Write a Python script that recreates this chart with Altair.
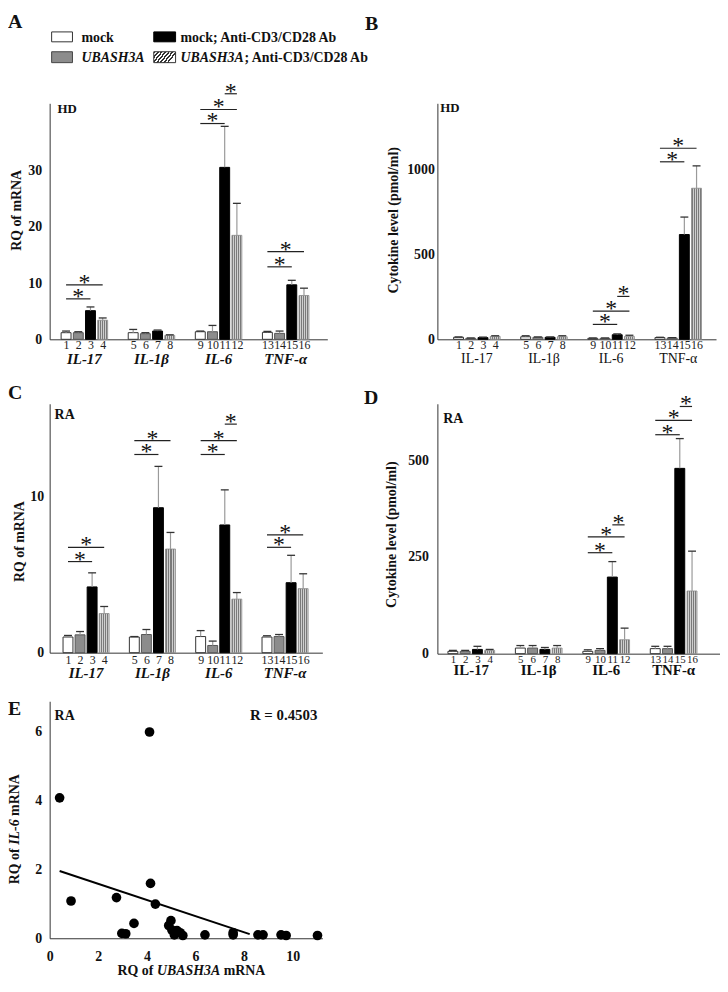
import altair as alt
import pandas as pd

FONT = "Liberation Serif"

# ---------------- data ----------------
genes = ["IL-17", "IL-1β", "IL-6", "TNF-α"]
conditions = ["mock", "UBASH3A", "mock; Anti-CD3/CD28 Ab", "UBASH3A; Anti-CD3/CD28 Ab"]
bar_numbers = list(range(1, 17))

# A: HD, RQ of mRNA
hd_mrna_mean = [1.18, 1.18, 5.1, 3.4, 1.18, 1.0, 1.47, 0.7, 1.35, 1.35, 30.6, 18.5, 1.24, 1.06, 9.7, 7.8]
hd_mrna_top = [1.47, 1.35, 5.76, 3.8, 1.76, 1.18, 1.65, 0.8, 1.47, 2.47, 37.9, 24.2, 1.41, 1.47, 10.5, 9.1]
hd_mrna_sig_from = [1, 1, 9, 9, 11, 13, 13]
hd_mrna_sig_to = [3, 4, 11, 12, 12, 15, 16]
hd_mrna_sig_y = [7.2, 9.7, 38.4, 40.9, 43.7, 12.9, 15.6]

# B: HD, cytokine level
hd_cyto_mean = [12, 6, 10, 17, 15, 12, 12, 15, 6, 6, 27, 17, 10, 8, 618, 891]
hd_cyto_top = [14, 8, 13, 21, 21, 14, 14, 21, 8, 8, 32, 24, 12, 10, 721, 1023]
hd_cyto_sig_from = [9, 9, 11, 13, 13]
hd_cyto_sig_to = [11, 12, 12, 15, 16]
hd_cyto_sig_y = [88, 166, 253, 1047, 1127]

# C: RA, RQ of mRNA
ra_mrna_mean = [1.0, 1.14, 4.2, 2.5, 1.0, 1.16, 9.26, 6.62, 1.03, 0.46, 8.16, 3.42, 1.0, 1.03, 4.47, 4.09]
ra_mrna_top = [1.1, 1.35, 5.1, 2.95, 1.03, 1.48, 11.9, 7.68, 1.41, 0.74, 10.4, 3.84, 1.08, 1.16, 6.22, 5.04]
ra_mrna_sig_from = [1, 1, 5, 5, 9, 9, 11, 13, 13]
ra_mrna_sig_to = [3, 4, 7, 8, 11, 12, 12, 15, 16]
ra_mrna_sig_y = [5.82, 6.73, 12.66, 13.54, 12.66, 13.54, 14.6, 6.73, 7.53]

# D: RA, cytokine level
ra_cyto_mean = [6, 6, 11, 8.5, 14.5, 14.5, 11, 14.5, 6, 8.5, 198, 36, 13, 13, 479, 162]
ra_cyto_top = [8.5, 8.5, 19, 11, 21, 21, 16, 21, 10, 13, 238, 66, 19, 19, 556, 265]
ra_cyto_sig_from = [9, 9, 11, 13, 13, 15]
ra_cyto_sig_to = [11, 12, 12, 15, 16, 16]
ra_cyto_sig_y = [261, 302, 333, 566, 603, 639]

# E: scatter
scatter_ubash3a = [0.41, 0.88, 2.75, 2.97, 3.13, 3.47, 4.11, 4.15, 4.35, 4.90, 4.99, 5.03,
                   5.13, 5.24, 5.37, 5.48, 6.39, 7.55, 7.55, 8.57, 8.78, 9.52, 9.73, 11.02]
scatter_il6 = [4.07, 1.08, 1.18, 0.14, 0.13, 0.43, 5.98, 1.59, 0.99, 0.37, 0.51, 0.24,
               0.10, 0.22, 0.16, 0.08, 0.10, 0.10, 0.16, 0.10, 0.10, 0.10, 0.08, 0.08]
trend_x = [0.41, 8.23]
trend_y = [1.95, 0.12]

# ---------------- layout helpers ----------------
POS = [(i // 4) * 11 + (i % 4) * 2 for i in range(16)]
LABEL_EXPR = "'' + (indexof([" + ",".join(str(p) for p in POS) + "], datum.value) + 1)"


def stripes(n, dark, light, x2=1, y2=0):
    stops = []
    for k in range(n):
        a, m, b = k / n, (k + 0.5) / n, (k + 1) / n
        stops += [{"offset": a, "color": dark}, {"offset": m, "color": dark},
                  {"offset": m, "color": light}, {"offset": b, "color": light}]
    return {"gradient": "linear", "x1": 0, "y1": 0, "x2": x2, "y2": y2, "stops": stops}


HATCH_BAR = stripes(5, "#7a7a7a", "#cfcfcf")
HATCH_LEG = stripes(7, "#333333", "#ffffff", 1, 0.4)

ONE = alt.Data(values=[{}])


def txt(text, x, y, size, weight="bold", style="normal", align="left", angle=0, baseline="alphabetic"):
    return alt.Chart(ONE).mark_text(
        text=text, font=FONT, fontSize=size, fontWeight=weight, fontStyle=style,
        align=align, baseline=baseline, angle=angle, color="#111"
    ).encode(x=alt.value(x), y=alt.value(y))


def frame(x1, x2, y1, y2):
    return alt.Chart(ONE).mark_rect(fill="white", opacity=0).encode(
        x=alt.value(x1), x2=alt.value(x2), y=alt.value(y1), y2=alt.value(y2))


def swatch(x1, x2, y1, y2, fill, stroke):
    return alt.Chart(ONE).mark_rect(fill=fill, stroke=stroke, strokeWidth=1).encode(
        x=alt.value(x1), x2=alt.value(x2), y=alt.value(y1), y2=alt.value(y2))


def bar_df(mean, top):
    rows = []
    for i, b in enumerate(bar_numbers):
        g, c = divmod(i, 4)
        rows.append(dict(bar=b, gene=genes[g], cond=conditions[c], ci=c,
                         pos=POS[i], value=mean[i], top=top[i]))
    return pd.DataFrame(rows)


def sig_df(f, t, y):
    rows = []
    for a, b, lv in zip(f, t, y):
        x1, x2 = POS[a - 1], POS[b - 1]
        rows.append(dict(x1=x1, x2=x2, xm=(x1 + x2) / 2, level=lv, star="*"))
    return pd.DataFrame(rows)


def bar_panel(mean, top, sf, st, sy, width, height, xdom, ydom, yticks,
              num_size, num_pad, ylab_pad, gene_font, gene_y,
              title, title_x, title_y, tag, tag_size, tag_x, tag_y, frm, extra):
    df = bar_df(mean, top)
    sg = sig_df(sf, st, sy)
    gdf = pd.DataFrame({"gene": genes, "center": [g * 11 + 3 for g in range(4)]})
    xs = alt.Scale(domain=xdom, nice=False, zero=False)
    ys = alt.Scale(domain=ydom, nice=False, zero=True)
    xax = alt.Axis(values=POS, labelExpr=LABEL_EXPR, title=None, grid=False, ticks=False,
                   labelFont=FONT, labelFontSize=num_size, labelFontWeight="normal",
                   labelPadding=num_pad, labelOverlap=False, labelFlush=False,
                   domainColor="#333", labelColor="#222")
    yax = alt.Axis(values=yticks, format="d", title=None, grid=False, ticks=False,
                   labelFont=FONT, labelFontSize=14, labelFontWeight="bold",
                   labelPadding=ylab_pad, labelFlush=False, domainColor="#333", labelColor="#111")

    def X(f):
        return alt.X(f, type="quantitative", scale=xs, axis=xax)

    def Y(f):
        return alt.Y(f, type="quantitative", scale=ys, axis=yax)

    styles = [dict(fill="white", stroke="#333", strokeWidth=1),
              dict(fill="#8c8c8c", stroke="#555", strokeWidth=1),
              dict(fill="black", stroke="black", strokeWidth=1),
              dict(fill=HATCH_BAR, stroke="#888", strokeWidth=0.8)]
    layers = [frm]
    for c in range(4):
        layers.append(alt.Chart(df[df.ci == c]).mark_bar(size=10, orient="vertical", **styles[c])
                      .encode(x=X("pos"), y=Y("value")))
    layers.append(alt.Chart(df).mark_rule(color="#9a9a9a", strokeWidth=1.2)
                  .encode(x=X("pos"), y=Y("value"), y2="top"))
    layers.append(alt.Chart(df).mark_rule(color="#333", strokeWidth=1.3, xOffset=-4, x2Offset=4)
                  .encode(x=X("pos"), x2="pos", y=Y("top")))
    layers.append(alt.Chart(sg).mark_rule(color="#222", strokeWidth=1.2)
                  .encode(x=X("x1"), x2="x2", y=Y("level")))
    layers.append(alt.Chart(sg).mark_text(font=FONT, fontSize=24, dy=5, baseline="alphabetic",
                                          align="center", color="#111")
                  .encode(x=X("xm"), y=Y("level"), text="star"))
    layers.append(alt.Chart(gdf).mark_text(font=FONT, align="center", baseline="alphabetic",
                                           color="#111", **gene_font)
                  .encode(x=X("center"), y=alt.value(gene_y), text="gene"))
    layers.append(txt(title, title_x, title_y, 14, angle=270, align="center"))
    layers.append(txt(tag, tag_x, tag_y, tag_size))
    layers += extra
    return alt.layer(*layers).properties(width=width, height=height)


ITAL = dict(fontSize=15, fontWeight="bold", fontStyle="italic")
PLAIN = dict(fontSize=14, fontWeight="normal", fontStyle="normal")
BOLD = dict(fontSize=15, fontWeight="bold", fontStyle="normal")

# legend (inside panel A, above plot)
legend = [
    swatch(2, 23, -72, -62, "white", "#333"),
    swatch(2, 23, -52, -41, "#8c8c8c", "#444"),
    swatch(105, 127, -72, -62, "black", "black"),
    swatch(105, 127, -52, -41, HATCH_LEG, "#333"),
    txt(conditions[0], 32, -62, 14),
    txt(conditions[1], 32, -42, 14, style="italic"),
    txt(conditions[2], 132, -62, 14),
    txt("UBASH3A", 132, -42, 14, style="italic"),
    txt("; Anti-CD3/CD28 Ab", 196.5, -42, 14),
]

panel_a = bar_panel(
    hd_mrna_mean, hd_mrna_top, hd_mrna_sig_from, hd_mrna_sig_to, hd_mrna_sig_y,
    280, 238, [-1.88, 42.01], [0, 42], [0, 10, 20, 30],
    12, 0, 8, ITAL, 263,
    "RQ of mRNA", -29, 108, "HD", 13, 8, 10,
    frame(-42, 332, -92, 275),
    legend + [txt("A", -42, -76, 20), txt("B", 318, -74, 20)])

panel_b = bar_panel(
    hd_cyto_mean, hd_cyto_top, hd_cyto_sig_from, hd_cyto_sig_to, hd_cyto_sig_y,
    281, 238, [-2.66, 41.38], [0, 1392], [0, 500, 1000],
    12, 0, 3, PLAIN, 262,
    "Cytokine level (pmol/ml)", -40, 118, "HD", 13, 3, 9,
    frame(-59, 285, -92, 275), [])

panel_c = bar_panel(
    ra_mrna_mean, ra_mrna_top, ra_mrna_sig_from, ra_mrna_sig_to, ra_mrna_sig_y,
    275, 251, [-2.22, 41.36], [0, 15.9], [0, 10],
    12, 2, 6, ITAL, 277,
    "RQ of mRNA", -26, 139, "RA", 14, 5, 15,
    frame(-42, 332, -28, 287),
    [txt("C", -42, -5, 20), txt("D", 317, 0, 20)])

panel_d = bar_panel(
    ra_cyto_mean, ra_cyto_top, ra_cyto_sig_from, ra_cyto_sig_to, ra_cyto_sig_y,
    285, 252, [-1.72, 42.75], [0, 646], [0, 250, 500],
    11, 0, 9, BOLD, 274,
    "Cytokine level (pmol/ml)", -42, 132, "RA", 14, 6, 19,
    frame(-59, 285, -28, 287), [])

# scatter panel E
sdf = pd.DataFrame({"ubash3a": scatter_ubash3a, "il6": scatter_il6})
tdf = pd.DataFrame({"ubash3a": trend_x, "il6": trend_y})
exs = alt.Scale(domain=[0, 11.22], nice=False, zero=True)
eys = alt.Scale(domain=[0, 6.87], nice=False, zero=True)
exax = alt.Axis(values=[0, 2, 4, 6, 8, 10], title=None, grid=False, ticks=False,
                labelFont=FONT, labelFontSize=14, labelFontWeight="bold", labelPadding=11,
                labelFlush=False, domainColor="#333", labelColor="#111")
eyax = alt.Axis(values=[0, 2, 4, 6], title=None, grid=False, ticks=False,
                labelFont=FONT, labelFontSize=14, labelFontWeight="bold", labelPadding=8,
                labelFlush=False, domainColor="#333", labelColor="#111")
EX = alt.X("ubash3a", type="quantitative", scale=exs, axis=exax)
EY = alt.Y("il6", type="quantitative", scale=eys, axis=eyax)

panel_e = alt.layer(
    frame(-42, 332, -13, 280),
    alt.Chart(tdf).mark_line(color="black", strokeWidth=2).encode(x=EX, y=EY),
    alt.Chart(sdf).mark_circle(size=95, color="black", opacity=1).encode(x=EX, y=EY),
    txt("RA", 5, 19, 14),
    txt("R = 0.4503", 270, 19, 15, align="right"),
    txt("E", -42, 14, 20),
    # y title: RQ of IL-6 mRNA
    txt("RQ of", -30.5, 184.5, 14, angle=270),
    txt("IL-6", -30.5, 144.8, 14, style="italic", angle=270),
    txt("mRNA", -30.5, 115.6, 14, angle=270),
    # x title: RQ of UBASH3A mRNA
    txt("RQ of", 68.5, 276, 14),
    txt("UBASH3A", 108.2, 276, 14, style="italic"),
    txt("mRNA", 175.5, 276, 14),
).properties(width=275, height=239)

chart = alt.concat(
    panel_a, panel_b, panel_c, panel_d, panel_e,
    columns=2, spacing=0, align="none", bounds="full"
).properties(padding=0).configure_view(stroke=None).configure_axis(
    grid=False, ticks=False, domainWidth=1
)

chart.save("out.html", embed_options={"renderer": "svg", "actions": False})
